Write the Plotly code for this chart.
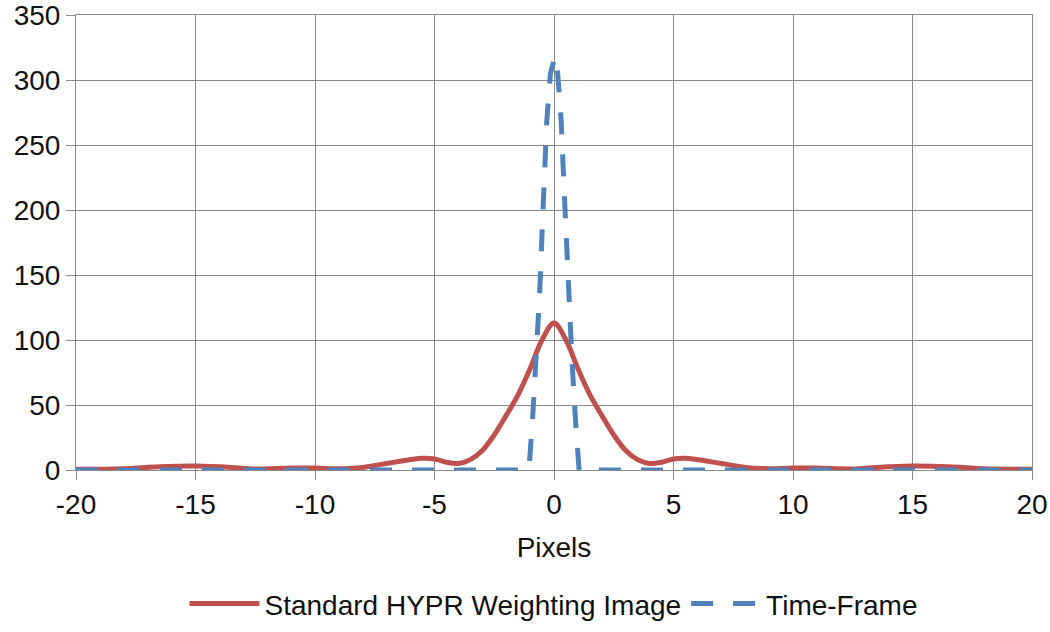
import plotly.graph_objects as go

# Standard HYPR weighting image profile
red_x = [-20, -18, -16.5, -15, -13.5, -12.5, -11, -10, -9, -8, -7, -6, -5.5, -5,
         -4.5, -4, -3.5, -3, -2.5, -2, -1.5, -1, -0.5, 0, 0.5, 1, 1.5, 2, 2.5,
         3, 3.5, 4, 4.5, 5, 5.5, 6, 7, 8, 9, 10, 11, 12.5, 13.5, 15, 16.5, 18, 20]
red_y = [0.5, 1, 2.5, 3, 2, 0.8, 1.5, 1.5, 1, 2, 5, 8, 9, 8.5,
         6, 5, 8, 15, 27, 42, 58, 78, 100, 113, 100, 78, 58, 42, 27,
         15, 8, 5, 6, 8.5, 9, 8, 5, 2, 1, 1.5, 1.5, 0.8, 2, 3, 2.5, 1, 0.5]

# Time-frame profile
blue_x = [-20, -1.2, -1.05, -0.9, -0.75, -0.6, -0.45, -0.3, -0.15, 0, 0.1,
          0.3, 0.45, 0.6, 0.75, 0.9, 1.05, 1.2, 20]
blue_y = [0, 0, 0, 38, 85, 136, 205, 269, 305, 315, 318,
          269, 205, 136, 85, 38, 0, 0, 0]

x_ticks = list(range(-20, 21, 5))
x_labels = [str(v) for v in x_ticks]  # plain hyphen minus, as in the original
y_ticks = list(range(0, 351, 50))

fig = go.Figure()
fig.add_trace(go.Scatter(x=red_x, y=red_y, mode="lines", line_shape="spline",
                         name="Standard HYPR Weighting Image",
                         line=dict(color="#C0504D", width=5)))
fig.add_trace(go.Scatter(x=blue_x, y=blue_y, mode="lines",
                         name="Time-Frame",
                         line=dict(color="#4F81BD", width=5, dash="22px,20px")))

txt = dict(family="Liberation Sans, Arial", size=28, color="#111111")
grid = "#8a8a8a"
fig.update_layout(
    width=1050, height=632,
    margin=dict(l=76, r=18, t=15, b=162),
    plot_bgcolor="white", paper_bgcolor="white",
    font=txt,
    showlegend=True,
    legend=dict(orientation="h", x=0.5, xanchor="center",
                yref="container", y=0.084, yanchor="top",
                font=txt, itemwidth=70, tracegroupgap=0),
    xaxis=dict(range=[-20, 20], tickvals=x_ticks, ticktext=x_labels,
               automargin=False, ticklabeloverflow="allow",
               showgrid=True, gridcolor=grid, gridwidth=1,
               showline=True, linecolor=grid, mirror=True,
               ticks="outside", ticklen=9, tickcolor=grid,
               zeroline=True, zerolinecolor=grid, zerolinewidth=1,
               title=dict(text="Pixels", font=txt, standoff=18),
               tickfont=txt),
    yaxis=dict(range=[0, 350], tickvals=y_ticks,
               automargin=False, ticklabeloverflow="allow",
               showgrid=True, gridcolor=grid, gridwidth=1,
               showline=True, linecolor=grid, mirror=True,
               ticks="outside", ticklen=9, tickcolor=grid,
               zeroline=False, tickfont=txt),
)

# drop the page's default body margin so the figure sits at the window corner
fig.write_html("out.html", config={"displayModeBar": False},
               post_script="document.body.style.margin = '0';")
